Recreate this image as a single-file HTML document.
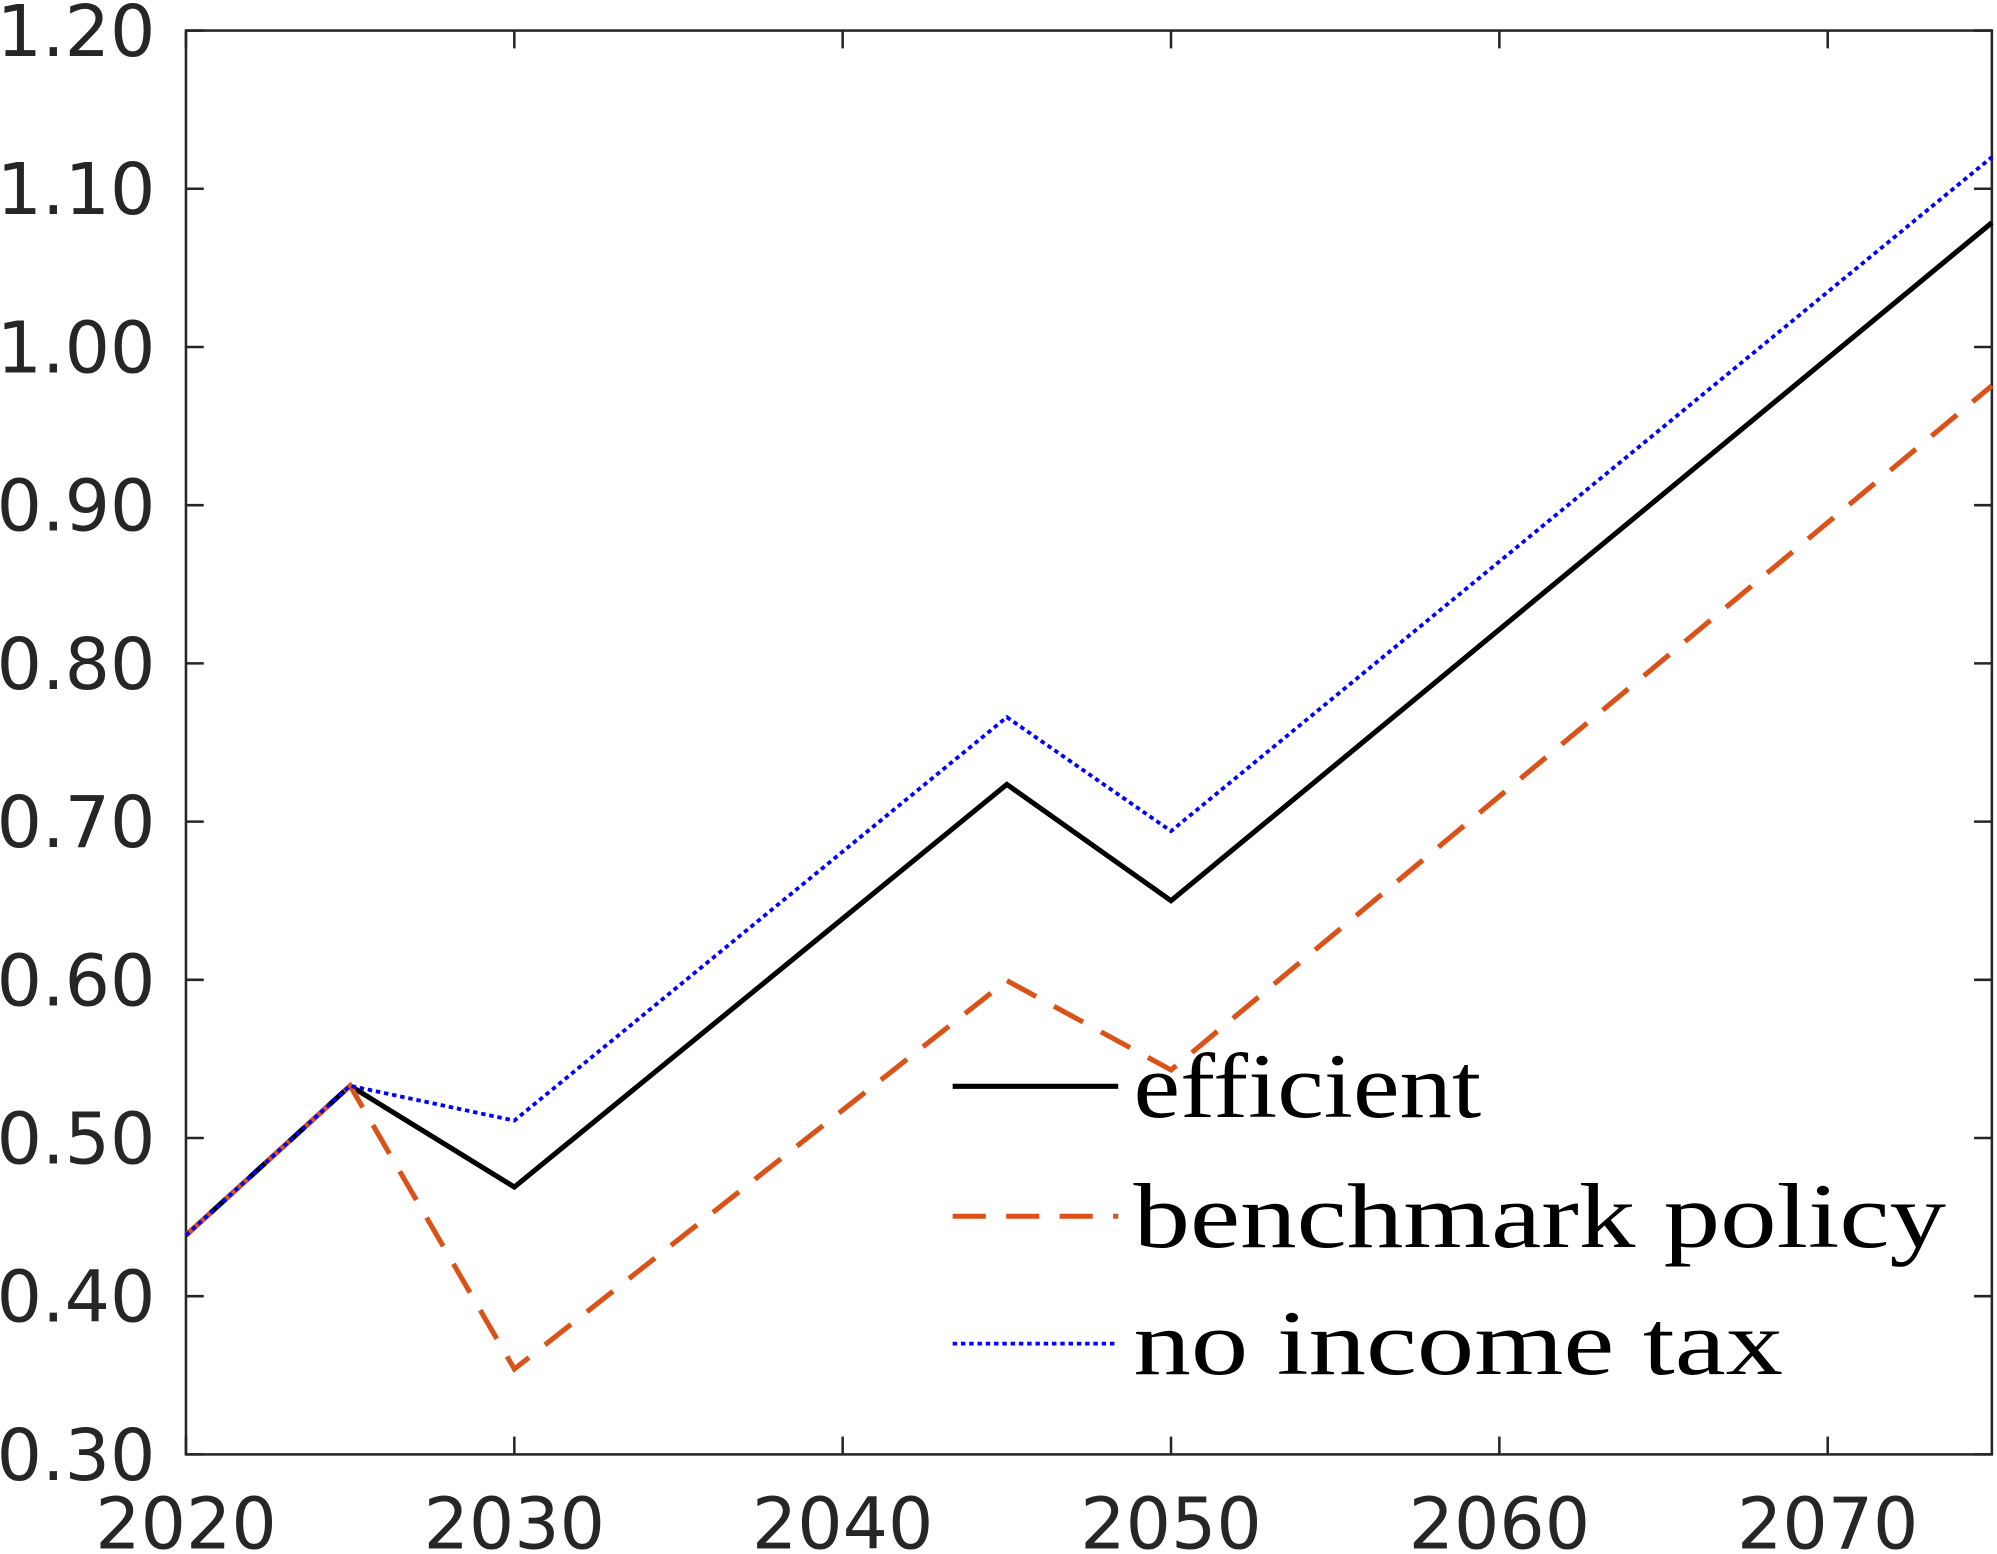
<!DOCTYPE html>
<html><head><meta charset="utf-8"><style>
html,body{margin:0;padding:0;background:#fff;}
svg{display:block;}
</style></head><body>
<svg id="chart" width="1997" height="1554" viewBox="0 0 1568 1220.2" xmlns="http://www.w3.org/2000/svg">
<g id="grid"></g>
<g id="series"></g>
<g id="legend"></g>
</svg>
<script>
const years = [2020, 2025, 2030, 2045, 2050, 2075];
const efficient = [0.4385, 0.533, 0.469, 0.7235, 0.650, 1.0786];
const benchmark = [0.4385, 0.533, 0.354, 0.5995, 0.543, 0.9755];
const noIncomeTax = [0.4385, 0.533, 0.511, 0.766, 0.694, 1.120];
const xTicks = [2020, 2030, 2040, 2050, 2060, 2070];
const yTicks = [0.30, 0.40, 0.50, 0.60, 0.70, 0.80, 0.90, 1.00, 1.10, 1.20];
const legendLabels = ["efficient", "benchmark policy", "no income tax"];

const L=146,R=1564,T=24,B=1142;
const X0=2020,X1=2075,Y0=0.30,Y1=1.20;
const sx=v=>L+(v-X0)/(X1-X0)*(R-L);
const sy=v=>B-(v-Y0)/(Y1-Y0)*(B-T);
const NS="http://www.w3.org/2000/svg";
function mk(tag,attrs,parent){const e=document.createElementNS(NS,tag);for(const k in attrs)e.setAttribute(k,attrs[k]);parent.appendChild(e);return e;}
const g=document.getElementById('grid');
const frame=mk('rect',{x:L,y:T,width:R-L,height:B-T,fill:'none',stroke:'#262626','stroke-width':2},g);


const tk=14;
const FONT='DejaVu Sans, Liberation Sans, sans-serif';
xTicks.forEach(v=>{
  const x=sx(v);
  const t1=mk('line',{x1:x,x2:x,y1:B,y2:B-tk,stroke:'#262626','stroke-width':2},g);
  
  
  const t2=mk('line',{x1:x,x2:x,y1:T,y2:T+tk,stroke:'#262626','stroke-width':2},g);
  
  
  const tx=mk('text',{x:x,y:1216,'text-anchor':'middle','font-size':56,fill:'#262626','font-family':FONT},g);
  tx.textContent=v;
  
  
});
yTicks.forEach(v=>{
  const y=sy(v);
  const t1=mk('line',{x1:L,x2:L+tk,y1:y,y2:y,stroke:'#262626','stroke-width':2},g);
  
  
  const t2=mk('line',{x1:R,x2:R-tk,y1:y,y2:y,stroke:'#262626','stroke-width':2},g);
  
  
  const tx=mk('text',{x:122,y:y+20,'text-anchor':'end','font-size':56,fill:'#262626','font-family':FONT},g);
  tx.textContent=v.toFixed(2);
  
  
});
const styles=[
  {data:efficient,stroke:'#000',dash:'',w:4,name:'efficient-line',tl:273},
  {data:benchmark,stroke:'#D95319',dash:'26 16',w:4,name:'benchmark-policy-line',tl:638},
  {data:noIncomeTax,stroke:'#0000FF',dash:'3.5 3',w:3,name:'no-income-tax-line',tl:510}
];
const sg=document.getElementById('series');
styles.forEach(s=>{
  const pts=years.map((yr,i)=>sx(yr)+','+sy(s.data[i])).join(' ');
  const p=mk('polyline',{points:pts,fill:'none',stroke:s.stroke,'stroke-width':s.w,'stroke-dasharray':s.dash},sg);
  
  
});
const lg=document.getElementById('legend');
const rows=[853,955,1055];
styles.forEach((s,i)=>{
  const l=mk('line',{x1:748,x2:878,y1:rows[i],y2:rows[i],stroke:s.stroke,'stroke-width':s.w,'stroke-dasharray':s.dash},lg);
  
  
  const t=mk('text',{x:890,y:rows[i]+24,'font-size':72,fill:'#000','font-family':'Liberation Serif, serif',textLength:s.tl,lengthAdjust:'spacingAndGlyphs'},lg);
  t.textContent=legendLabels[i];
  
  
});
</script>
</body></html>
